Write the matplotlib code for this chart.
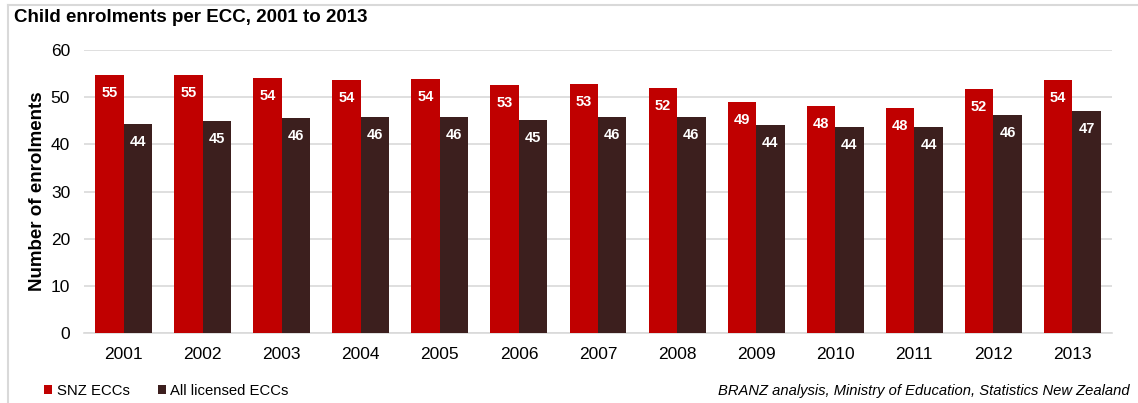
import numpy as np
import matplotlib.pyplot as plt
from matplotlib.lines import Line2D

# -------------------------
# DATA
# -------------------------
years = ["2001", "2002", "2003", "2004", "2005", "2006", "2007",
         "2008", "2009", "2010", "2011", "2012", "2013"]
snz_eccs = [54.7, 54.6, 54.1, 53.7, 53.8, 52.6, 52.8, 51.9, 49.0, 48.1, 47.6, 51.7, 53.6]
all_eccs = [44.3, 44.9, 45.6, 45.7, 45.8, 45.2, 45.8, 45.8, 44.1, 43.7, 43.7, 46.2, 47.1]

RED = "#C00000"
BROWN = "#3C1F1E"
GRID = "#D9D9D9"

plt.rcParams["font.family"] = ["Liberation Sans", "DejaVu Sans"]

fig = plt.figure(figsize=(11.38, 4.03), dpi=100)
ax = fig.add_axes([84 / 1138, 1 - 333 / 403, (1112 - 84) / 1138, (333 - 50) / 403])

x = np.arange(len(years))
w = 0.36
bars_snz = ax.bar(x - w / 2, snz_eccs, w, color=RED, label="SNZ ECCs", zorder=3)
bars_all = ax.bar(x + w / 2, all_eccs, w, color=BROWN, label="All licensed ECCs", zorder=3)

# value labels inside the top of each bar
for bars, vals in [(bars_snz, snz_eccs), (bars_all, all_eccs)]:
    for b, v in zip(bars, vals):
        ax.annotate(f"{v:.0f}", (b.get_x() + b.get_width() / 2, v),
                    xytext=(0, -18), textcoords="offset pixels",
                    ha="center", va="center", color="white",
                    fontsize=10.5, fontweight="bold", zorder=4)

ax.set_xlim(-0.5, len(years) - 0.5)
ax.set_ylim(0, 60)
ax.set_yticks(range(0, 61, 10))
ax.set_xticks(x)
ax.set_xticklabels(years)
ax.tick_params(axis="both", length=0, labelsize=12.5, colors="black")
ax.tick_params(axis="y", pad=10)
ax.tick_params(axis="x", pad=10)
ax.yaxis.grid(True, color=GRID, linewidth=1.2, zorder=0)
for s in ["top", "right", "left"]:
    ax.spines[s].set_visible(False)
ax.spines["bottom"].set_color(GRID)
ax.spines["bottom"].set_linewidth(1.2)

ax.set_ylabel("Number of enrolments", fontsize=13.5, fontweight="bold")
ax.yaxis.set_label_coords(-38 / 1028, 0.5)

# title, legend and source line
fig.text(14 / 1138, 1 - 18 / 403, "Child enrolments per ECC, 2001 to 2013",
         fontsize=13.5, fontweight="bold", ha="left", va="center")

fig.legend(handles=[bars_snz, bars_all], loc="center left",
           bbox_to_anchor=(38 / 1138, 1 - 391 / 403), ncol=2, frameon=False,
           fontsize=10.7, handlelength=0.55, handleheight=0.55, handletextpad=0.3,
           columnspacing=1.9, borderaxespad=0)

fig.text(1130 / 1138, 1 - 391 / 403,
         "BRANZ analysis, Ministry of Education, Statistics New Zealand",
         fontsize=10.6, style="italic", ha="right", va="center")

# outer frame
fig.add_artist(Line2D([8 / 1138, 1], [1 - 5 / 403, 1 - 5 / 403],
                      color="#D9D9D9", linewidth=1.5, transform=fig.transFigure))
fig.add_artist(Line2D([8 / 1138, 8 / 1138], [0, 1 - 5 / 403],
                      color="#D9D9D9", linewidth=1.5, transform=fig.transFigure))

fig.savefig("out.png", dpi=100)
